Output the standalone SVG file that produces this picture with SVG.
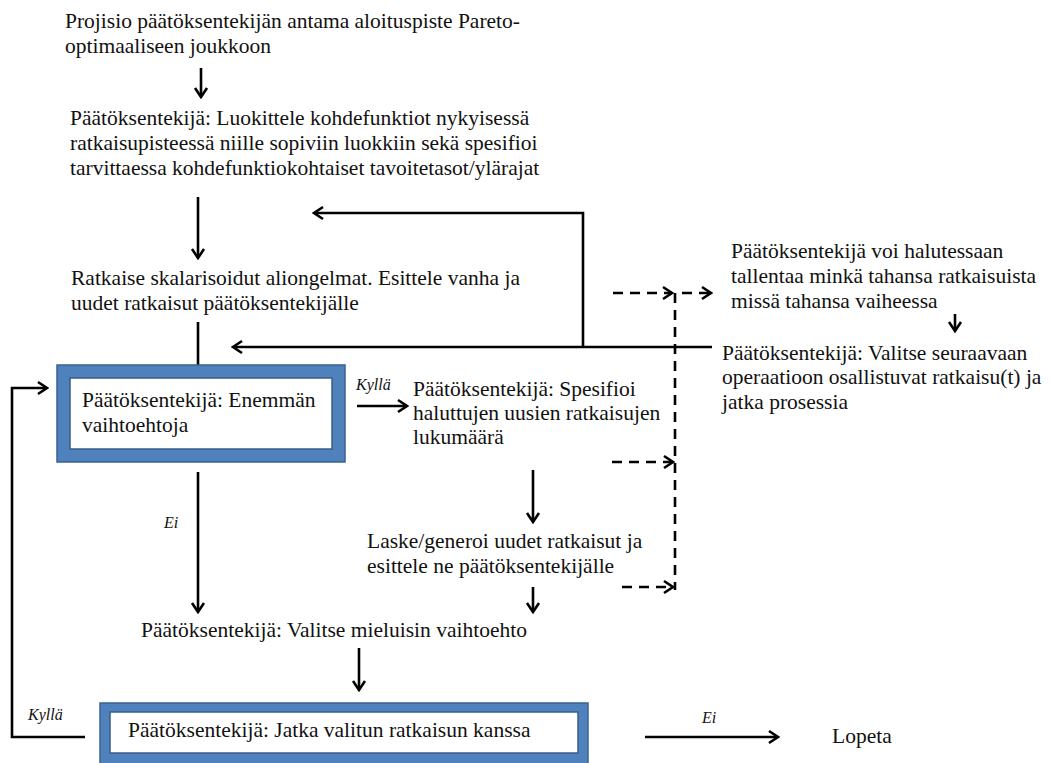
<svg xmlns="http://www.w3.org/2000/svg" width="1051" height="763" viewBox="0 0 1051 763">
<defs>
<style>
text{font-family:"Liberation Serif","Times New Roman",serif;font-size:21.5px;fill:#111}
.lbl{font-style:italic;font-size:16px}
.ln{fill:none;stroke:#000;stroke-width:2.6}
.ar{fill:none;stroke:#000;stroke-width:2.6;marker-end:url(#ah)}
.da{fill:none;stroke:#000;stroke-width:2.6;stroke-dasharray:10 7;marker-end:url(#ah)}
.dl{fill:none;stroke:#000;stroke-width:2.6;stroke-dasharray:10 7}
.outer{fill:#4F81BD;stroke:#3A6290;stroke-width:1.5}
.inner{fill:#fff;stroke:#385D8A;stroke-width:1.5}
</style>
<marker id="ah" markerUnits="userSpaceOnUse" markerWidth="14" markerHeight="16" viewBox="0 0 14 16" refX="12" refY="8" orient="auto">
<path d="M3,2 L12,8 L3,14" fill="none" stroke="#000" stroke-width="2.6"/>
</marker>
</defs>
<rect width="1051" height="763" fill="#fff"/>

<g id="connectors">
<path class="ar" d="M201,68 V97"/>
<path class="ar" d="M198,197 V258"/>
<path class="ln" d="M198,322 V365"/>
<path class="ar" d="M583,347 V213 H314"/>
<path class="ar" d="M712,347 H233"/>
<path class="ar" d="M357,406 H407"/>
<path class="ar" d="M533,470 V522"/>
<path class="ar" d="M533,587 V612"/>
<path class="ar" d="M198,472 V612"/>
<path class="ar" d="M359,648 V690"/>
<path class="ar" d="M955,314 V331"/>
<path class="ar" d="M85,737 H12 V388 H47"/>
<path class="ar" d="M645,737 H778"/>
<path class="da" d="M613,293 H672"/>
<path class="da" d="M682,293 H711"/>
<path class="dl" d="M675,293 V590"/>
<path class="da" d="M612,462 H673"/>
<path class="da" d="M622,587 H673"/>
<text class="lbl" x="356" y="390">Kyllä</text>
<text class="lbl" x="164" y="528">Ei</text>
<text class="lbl" x="28" y="720">Kyllä</text>
<text class="lbl" x="702" y="723">Ei</text>
</g>

<g id="start">
<text x="65" y="28">Projisio päätöksentekijän antama aloituspiste Pareto-</text>
<text x="65" y="53">optimaaliseen joukkoon</text>
</g>

<g id="classify">
<text x="70" y="125">Päätöksentekijä: Luokittele kohdefunktiot nykyisessä</text>
<text x="70" y="150">ratkaisupisteessä niille sopiviin luokkiin sekä spesifioi</text>
<text x="70" y="175">tarvittaessa kohdefunktiokohtaiset tavoitetasot/ylärajat</text>
</g>

<g id="solve">
<text x="71" y="285">Ratkaise skalarisoidut aliongelmat. Esittele vanha ja</text>
<text x="71" y="310">uudet ratkaisut päätöksentekijälle</text>
</g>

<g id="more">
<rect class="outer" x="57" y="365" width="288" height="97"/>
<rect class="inner" x="70" y="378" width="262" height="71"/>
<text x="82" y="407">Päätöksentekijä: Enemmän</text>
<text x="82" y="432">vaihtoehtoja</text>
</g>

<g id="specify">
<text x="413" y="396">Päätöksentekijä: Spesifioi</text>
<text x="413" y="420">haluttujen uusien ratkaisujen</text>
<text x="413" y="444">lukumäärä</text>
</g>

<g id="generate">
<text x="367" y="548">Laske/generoi uudet ratkaisut ja</text>
<text x="367" y="573">esittele ne päätöksentekijälle</text>
</g>

<g id="choose">
<text x="141" y="637">Päätöksentekijä: Valitse mieluisin vaihtoehto</text>
</g>

<g id="continue">
<rect class="outer" x="100" y="703" width="488" height="64"/>
<rect class="inner" x="110" y="712" width="468" height="41"/>
<text x="128" y="737">Päätöksentekijä: Jatka valitun ratkaisun kanssa</text>
</g>

<g id="stop">
<text x="832" y="743">Lopeta</text>
</g>

<g id="save">
<text x="731" y="258">Päätöksentekijä voi halutessaan</text>
<text x="731" y="283">tallentaa minkä tahansa ratkaisuista</text>
<text x="731" y="308">missä tahansa vaiheessa</text>
</g>

<g id="select-next">
<text x="722" y="360">Päätöksentekijä: Valitse seuraavaan</text>
<text x="722" y="384">operaatioon osallistuvat ratkaisu(t) ja</text>
<text x="722" y="409">jatka prosessia</text>
</g>
</svg>
